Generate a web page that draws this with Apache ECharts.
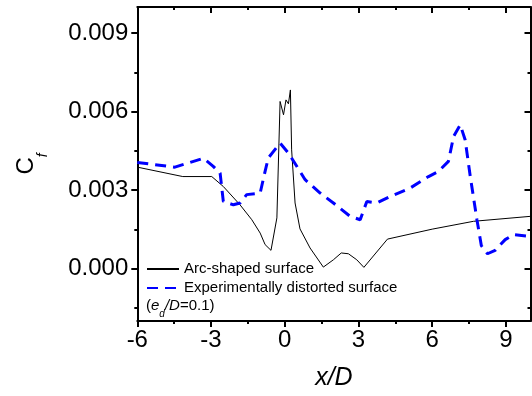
<!DOCTYPE html>
<html>
<head>
<meta charset="utf-8">
<script src="https://cdn.jsdelivr.net/npm/echarts@6/dist/echarts.min.js"></script>
<style>html,body{margin:0;padding:0;background:#fff;}#c{width:532px;height:396px;}</style>
</head>
<body>
<div id="c"></div>
<script>
var arcX = [-6.0, -4.15, -2.97, -2.50, -1.82, -1.34, -1.0, -0.80, -0.56, -0.32, -0.19, -0.05, 0.05, 0.15, 0.23, 0.28, 0.42, 0.62, 1.03, 1.57, 1.98, 2.30, 2.59, 2.93, 3.22, 4.18, 6.0, 7.68, 10.0];
var arcY = [3.88, 3.52, 3.52, 3.14, 2.44, 1.87, 1.36, 0.92, 0.70, 1.94, 6.39, 5.88, 6.45, 6.30, 6.83, 4.54, 2.51, 1.52, 0.79, 0.06, 0.34, 0.60, 0.57, 0.34, 0.05, 1.13, 1.51, 1.81, 2.0];
var expX = [-6.0, -4.47, -3.31, -2.91, -2.63, -2.50, -2.09, -1.82, -1.55, -1.0, -0.80, -0.67, -0.19, 0.15, 0.83, 1.44, 1.98, 2.66, 3.07, 3.34, 3.75, 4.29, 5.10, 5.85, 6.26, 6.66, 6.87, 7.14, 7.34, 7.55, 7.82, 8.0, 8.25, 8.56, 8.97, 9.31, 10.0];
var expY = [4.06, 3.88, 4.22, 3.91, 3.65, 2.57, 2.44, 2.51, 2.83, 2.89, 3.72, 4.23, 4.80, 4.42, 3.40, 2.89, 2.51, 2.00, 1.87, 2.57, 2.51, 2.76, 3.08, 3.52, 3.72, 4.10, 5.05, 5.50, 4.93, 3.52, 1.87, 0.88, 0.57, 0.70, 1.11, 1.30, 1.23];
var xMajor = [-6, -3, 0, 3, 6, 9];
var xMinor = [-4.5, -1.5, 1.5, 4.5, 7.5];
var yMajor = [0, 0.003, 0.006, 0.009];
var yMinor = [-0.0015, 0.0015, 0.0045, 0.0075];
var seriesNames = ['Arc-shaped surface', 'Experimentally distorted surface'];

function pairs(xs, ys) { return xs.map(function (x, i) { return [x, ys[i] / 1000]; }); }

var FONT = 'Liberation Sans, Arial, sans-serif';
var lineSty = { color: '#000', width: 2 };

function xAx(pos, ticks, len, inside, showLine, showLabel) {
  return {
    type: 'value', position: pos, min: -6, max: 10, gridIndex: 0,
    axisLine: { show: showLine, onZero: false, lineStyle: lineSty },
    axisTick: { show: true, customValues: ticks, length: len, inside: inside, lineStyle: { color: '#000', width: 2 } },
    axisLabel: { show: showLabel, customValues: ticks, margin: 7, color: '#000', fontSize: 24, fontFamily: FONT },
    splitLine: { show: false }
  };
}
function yAx(pos, ticks, len, inside, showLine, showLabel) {
  return {
    type: 'value', position: pos, min: -0.002, max: 0.010, gridIndex: 0,
    axisLine: { show: showLine, onZero: false, lineStyle: lineSty },
    axisTick: { show: true, customValues: ticks, length: len, inside: inside, lineStyle: { color: '#000', width: 2 } },
    axisLabel: { show: showLabel, customValues: ticks, margin: 9, color: '#000', fontSize: 24, fontFamily: FONT,
      formatter: function (v) { return v.toFixed(3); } },
    splitLine: { show: false }
  };
}

var xa0 = xAx('bottom', xMajor, 6, false, true, true);
xa0.name = 'x/D';
xa0.nameLocation = 'middle';
xa0.nameGap = 45;
xa0.nameTextStyle = { fontSize: 25, fontStyle: 'italic', fontFamily: FONT, color: '#000' };
var ya0 = yAx('left', yMajor, 6, false, true, true);
ya0.name = '{c|C}{s|f}';
ya0.nameLocation = 'middle';
ya0.nameGap = 87;
ya0.nameTextStyle = { fontFamily: FONT, color: '#000',
  rich: {
    c: { fontSize: 24, lineHeight: 24, verticalAlign: 'top', fontFamily: FONT, color: '#000' },
    s: { fontSize: 14, lineHeight: 36, verticalAlign: 'bottom', fontStyle: 'italic', fontFamily: FONT, color: '#000' }
  } };

var chart = echarts.init(document.getElementById('c'), null, { renderer: 'canvas' });
chart.setOption({
  animation: false,
  backgroundColor: '#fff',
  grid: { left: 137.3, right: 1.5, top: 7, bottom: 74.3 },
  xAxis: [
    xa0,
    xAx('bottom', xMinor, 3, false, false, false),
    xAx('top', xMajor, 6, true, true, false),
    xAx('top', xMinor, 3, true, false, false)
  ],
  yAxis: [
    ya0,
    yAx('left', yMinor, 3, false, false, false),
    yAx('right', yMajor, 6, true, true, false),
    yAx('right', yMinor, 3, true, false, false)
  ],
  legend: {
    orient: 'vertical', left: 146, top: 261.5, padding: 0, itemGap: 4,
    itemWidth: 32, itemHeight: 14,
    itemStyle: { color: 'transparent', borderWidth: 0, opacity: 0 },
    textStyle: { fontSize: 15, lineHeight: 15, color: '#000', fontFamily: FONT },
    data: seriesNames
  },
  graphic: [{
    type: 'text', left: 146, top: 298,
    style: {
      text: '{n|(}{i|e}{s|d}{i|/D}{n|=0.1)}',
      fontSize: 15, fontFamily: FONT, fill: '#000',
      rich: {
        n: { fontSize: 15, fontFamily: FONT, fill: '#000', verticalAlign: 'top', lineHeight: 15 },
        i: { fontSize: 15, fontStyle: 'italic', fontFamily: FONT, fill: '#000', verticalAlign: 'top', lineHeight: 15 },
        s: { fontSize: 10, fontStyle: 'italic', fontFamily: FONT, fill: '#000', verticalAlign: 'bottom', lineHeight: 21 }
      }
    }
  }],
  series: [
    { name: seriesNames[0], type: 'line', xAxisIndex: 0, yAxisIndex: 0, data: pairs(arcX, arcY),
      symbol: 'none', lineStyle: { color: '#000', width: 1 }, itemStyle: { color: '#000' } },
    { name: seriesNames[1], type: 'line', xAxisIndex: 0, yAxisIndex: 0, data: pairs(expX, expY),
      symbol: 'none', lineStyle: { color: '#0000ff', width: 3, type: [11, 7] }, itemStyle: { color: '#0000ff' } }
  ]
});
</script>
</body>
</html>
